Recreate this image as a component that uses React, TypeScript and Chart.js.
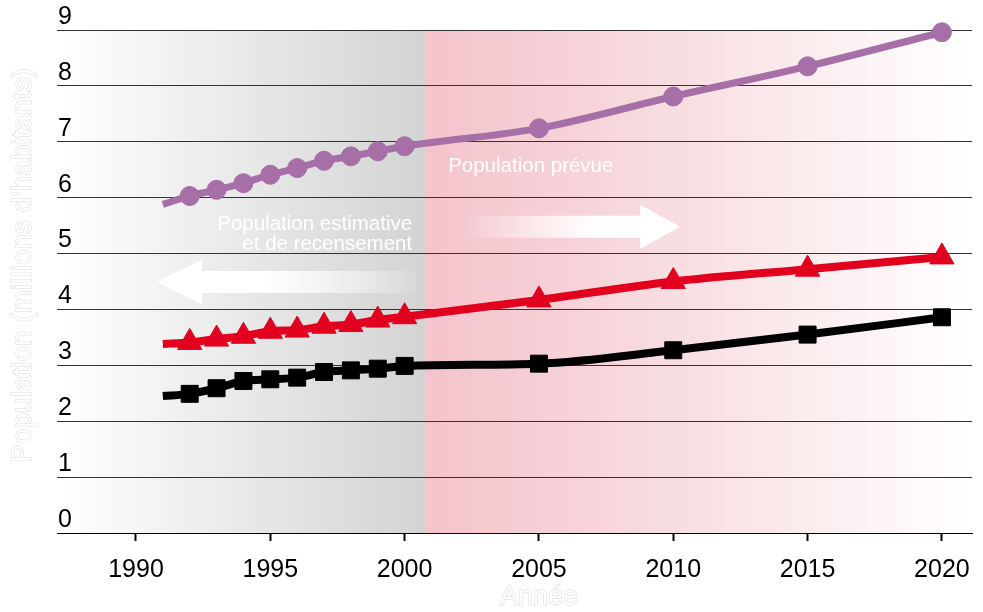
import React, { useEffect, useRef } from "react";
import { Chart, registerables } from "chart.js";

Chart.register(...registerables);

// ---- data ----
const years = [1991, 1992, 1993, 1994, 1995, 1996, 1997, 1998, 1999, 2000, 2005, 2010, 2015, 2020];
const purpleValues = [5.88, 6.03, 6.14, 6.26, 6.41, 6.53, 6.66, 6.74, 6.83, 6.92, 7.24, 7.81, 8.35, 8.96];
const redValues = [3.38, 3.41, 3.47, 3.52, 3.61, 3.63, 3.70, 3.73, 3.81, 3.87, 4.17, 4.50, 4.72, 4.94];
const blackValues = [2.45, 2.49, 2.59, 2.72, 2.75, 2.78, 2.88, 2.91, 2.94, 2.99, 3.03, 3.27, 3.55, 3.86];
const xTickValues = [1990, 1995, 2000, 2005, 2010, 2015, 2020];
const yTickValues = [0, 1, 2, 3, 4, 5, 6, 7, 8, 9];
const xRange = [1987.06, 2021.12];
const yRange = [0, 9];
const splitYear = 2000.8;

const yTitle = "Population (millions d'habitants)";
const xTitle = "Année";
const estimateLines = ["Population estimative", "et de recensement"];
const forecastLabel = "Population prévue";

// annotation anchors (in data units)
const leftArrow = { tip: 1990.78, headBase: 1992.46, tail: 2000.46, value: 4.49 };
const rightArrow = { tail: 2002.14, headBase: 2008.77, tip: 2010.25, value: 5.48 };
const estimateAnchor = { year: 2000.28, values: [5.43, 5.06] };
const forecastAnchor = { year: 2001.62, value: 6.46 };
const xTitleYear = 2005;

const FONT = "'Liberation Sans', Arial, sans-serif";

function series(label: string, values: number[], color: string, style: any, radius: number, width: number) {
  return {
    label,
    data: years.map((yr, i) => ({ x: yr, y: values[i] })),
    borderColor: color,
    backgroundColor: color,
    borderWidth: width,
    pointStyle: style,
    pointRadius: years.map((_, i) => (i === 0 ? 0 : radius)),
    pointBackgroundColor: color,
    pointBorderColor: color,
    pointBorderWidth: 1,
    cubicInterpolationMode: "monotone" as const,
    clip: false as const,
    fill: false,
  };
}

const bgPlugin = {
  id: "bgPlugin",
  beforeDraw(chart: any) {
    const { ctx, chartArea: a, scales } = chart;
    const x = scales.x;
    const split = x.getPixelForValue(splitYear);
    ctx.save();
    let g = ctx.createLinearGradient(a.left, 0, split, 0);
    g.addColorStop(0, "#ffffff");
    g.addColorStop(1, "#d3d3d3");
    ctx.fillStyle = g;
    ctx.fillRect(a.left, a.top, split - a.left, a.bottom - a.top);
    g = ctx.createLinearGradient(split, 0, a.right, 0);
    g.addColorStop(0, "#f4c3cb");
    g.addColorStop(0.5, "#f8e0e3");
    g.addColorStop(1, "#ffffff");
    ctx.fillStyle = g;
    ctx.fillRect(split, a.top, a.right - split, a.bottom - a.top);
    ctx.restore();
  },
};

const decorPlugin = {
  id: "decorPlugin",
  beforeDatasetsDraw(chart: any) {
    const { ctx, scales } = chart;
    const x = scales.x;
    const y = scales.y;
    ctx.save();
    // left arrow
    {
      const tip = x.getPixelForValue(leftArrow.tip);
      const hb = x.getPixelForValue(leftArrow.headBase);
      const tail = x.getPixelForValue(leftArrow.tail);
      const cy = y.getPixelForValue(leftArrow.value);
      const hh = 22.5, sh = 11;
      const g = ctx.createLinearGradient(tip, 0, tail, 0);
      g.addColorStop(0, "rgba(255,255,255,1)");
      g.addColorStop(0.4, "rgba(255,255,255,1)");
      g.addColorStop(1, "rgba(255,255,255,0.08)");
      ctx.fillStyle = g;
      ctx.beginPath();
      ctx.moveTo(tip, cy);
      ctx.lineTo(hb, cy - hh);
      ctx.lineTo(hb, cy - sh);
      ctx.lineTo(tail, cy - sh);
      ctx.lineTo(tail, cy + sh);
      ctx.lineTo(hb, cy + sh);
      ctx.lineTo(hb, cy + hh);
      ctx.closePath();
      ctx.fill();
    }
    // right arrow
    {
      const tail = x.getPixelForValue(rightArrow.tail);
      const hb = x.getPixelForValue(rightArrow.headBase);
      const tip = x.getPixelForValue(rightArrow.tip);
      const cy = y.getPixelForValue(rightArrow.value);
      const hh = 22, sh = 11;
      const g = ctx.createLinearGradient(tail, 0, tip, 0);
      g.addColorStop(0, "rgba(255,255,255,0)");
      g.addColorStop(0.62, "rgba(255,255,255,1)");
      g.addColorStop(1, "rgba(255,255,255,1)");
      ctx.fillStyle = g;
      ctx.beginPath();
      ctx.moveTo(tip, cy);
      ctx.lineTo(hb, cy - hh);
      ctx.lineTo(hb, cy - sh);
      ctx.lineTo(tail, cy - sh);
      ctx.lineTo(tail, cy + sh);
      ctx.lineTo(hb, cy + sh);
      ctx.lineTo(hb, cy + hh);
      ctx.closePath();
      ctx.fill();
    }
    // texts
    ctx.fillStyle = "#ffffff";
    ctx.font = `20.5px ${FONT}`;
    ctx.textBaseline = "alphabetic";
    ctx.textAlign = "right";
    estimateLines.forEach((line, i) => {
      ctx.fillText(line, x.getPixelForValue(estimateAnchor.year), y.getPixelForValue(estimateAnchor.values[i]));
    });
    ctx.textAlign = "left";
    ctx.fillText(forecastLabel, x.getPixelForValue(forecastAnchor.year), y.getPixelForValue(forecastAnchor.value));
    ctx.restore();
  },
  afterDraw(chart: any) {
    const { ctx, chartArea: a, scales } = chart;
    const x = scales.x;
    ctx.save();
    ctx.textAlign = "center";
    ctx.textBaseline = "middle";
    ctx.fillStyle = "#ffffff";
    ctx.strokeStyle = "#d9d9d9";
    ctx.lineWidth = 1;
    // x title
    ctx.font = `27px ${FONT}`;
    const tx = x.getPixelForValue(xTitleYear);
    ctx.strokeText(xTitle, tx, 598);
    ctx.fillText(xTitle, tx, 598);
    // y title
    ctx.font = `28px ${FONT}`;
    ctx.translate(23, (a.top + a.bottom) / 2 - 16);
    ctx.rotate(-Math.PI / 2);
    ctx.strokeText(yTitle, 0, 0);
    ctx.fillText(yTitle, 0, 0);
    ctx.restore();
  },
};

export default function App() {
  const ref = useRef<HTMLCanvasElement>(null);
  useEffect(() => {
    const canvas = ref.current!;
    const chart = new Chart(canvas, {
      type: "line",
      data: {
        datasets: [
          series("Série 1", purpleValues, "#a66fa8", "circle", 9.5, 7),
          series("Série 2", redValues, "#e2001f", "triangle", 14, 8),
          series("Série 3", blackValues, "#000000", "rect", 12, 8),
        ] as any,
      },
      options: {
        responsive: false,
        animation: false,
        devicePixelRatio: 1,
        layout: { autoPadding: false, padding: { left: 57, right: 11, top: 30, bottom: 0 } },
        plugins: { legend: { display: false }, tooltip: { enabled: false }, title: { display: false } },
        scales: {
          x: {
            type: "linear",
            min: xRange[0],
            max: xRange[1],
            afterBuildTicks: (s: any) => {
              s.ticks = xTickValues.map((v) => ({ value: v }));
            },
            afterFit: (s: any) => {
              s.height = 79;
              s.paddingLeft = 0;
              s.paddingRight = 0;
            },
            grid: {
              display: true,
              drawOnChartArea: false,
              drawTicks: true,
              tickLength: 8,
              tickColor: "#000",
              tickWidth: 2,
            },
            border: { display: true, color: "#000", width: 1 },
            ticks: {
              color: "#000",
              font: { family: FONT, size: 25 },
              padding: 14,
              maxRotation: 0,
              autoSkip: false,
              callback: (v: any) => String(v),
            },
          },
          y: {
            type: "linear",
            min: yRange[0],
            max: yRange[1],
            afterBuildTicks: (s: any) => {
              s.ticks = yTickValues.map((v) => ({ value: v }));
            },
            afterFit: (s: any) => {
              s.width = 0;
              s.paddingTop = 0;
              s.paddingBottom = 0;
            },
            grid: { display: true, color: "#333333", lineWidth: 1, drawTicks: false },
            border: { display: false },
            ticks: {
              mirror: true,
              padding: 1,
              labelOffset: -13,
              color: "#000",
              font: { family: FONT, size: 25 },
              callback: (v: any) => String(v),
            },
          },
        },
      },
      plugins: [bgPlugin, decorPlugin],
    });
    return () => chart.destroy();
  }, []);
  return (
    <div style={{ position: "absolute", left: 0, top: 0, width: 983, height: 612 }}>
      <canvas ref={ref} width={983} height={612} style={{ display: "block" }} />
    </div>
  );
}
